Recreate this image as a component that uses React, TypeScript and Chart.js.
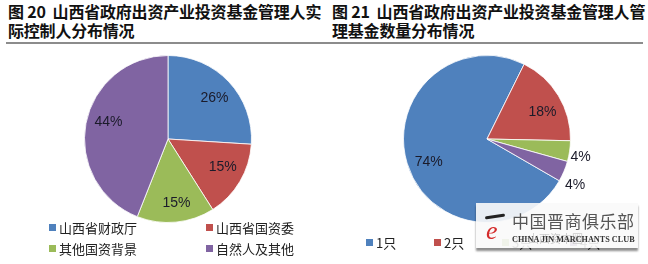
import React, { useEffect, useRef } from "react";
import { Chart, registerables } from "chart.js";

Chart.register(...registerables);

// ---- data ----
const leftCategories = ["山西省财政厅", "山西省国资委", "其他国资背景", "自然人及其他"];
const leftValues = [26, 15, 15, 44];
const rightCategories = ["1只", "2只", "3只", "4只"];
const rightValues = [74, 18, 4, 4];
const leftTitle = ["图 20  山西省政府出资产业投资基金管理人实", "际控制人分布情况"];
const rightTitle = ["图 21  山西省政府出资产业投资基金管理人管", "理基金数量分布情况"];

// ---- style ----
const COLORS = ["#4F81BD", "#C0504D", "#9BBB59", "#8064A2"];
const CJK = '"Noto Sans CJK SC", "Noto Sans", sans-serif';

type LabelStyle = { factor: number[]; nudge: number[] };

const labelPlugin = {
  id: "pctLabels",
  afterDatasetsDraw(chart: any) {
    const st: LabelStyle = chart.options.plugins.pctLabels;
    const ctx = chart.ctx;
    const meta = chart.getDatasetMeta(0);
    const data = chart.data.datasets[0].data as number[];
    ctx.save();
    ctx.font = '14px "Liberation Sans", Arial, sans-serif';
    ctx.fillStyle = "#1b1b2a";
    ctx.textAlign = "center";
    ctx.textBaseline = "middle";
    meta.data.forEach((arc: any, i: number) => {
      const p = arc.getProps(["x", "y", "startAngle", "endAngle", "outerRadius"], true);
      const mid = (p.startAngle + p.endAngle) / 2 + (st.nudge[i] * Math.PI) / 180;
      const r = p.outerRadius * st.factor[i];
      ctx.fillText(data[i] + "%", p.x + Math.cos(mid) * r, p.y + Math.sin(mid) * r);
    });
    ctx.restore();
  },
};

function Pie(props: {
  values: number[];
  labels: string[];
  rotation: number;
  style: LabelStyle;
  left: number;
}) {
  const ref = useRef<HTMLCanvasElement | null>(null);
  useEffect(() => {
    if (!ref.current) return;
    const chart = new Chart(ref.current, {
      type: "pie",
      data: {
        labels: props.labels,
        datasets: [
          {
            data: props.values,
            backgroundColor: COLORS,
            borderColor: "rgba(255,255,255,0.8)",
            borderWidth: 1,
          },
        ],
      },
      options: {
        animation: false,
        responsive: false,
        rotation: props.rotation,
        layout: { padding: 10 },
        plugins: {
          legend: { display: false },
          tooltip: { enabled: false },
          pctLabels: props.style,
        } as any,
      },
      plugins: [labelPlugin],
    });
    return () => chart.destroy();
  }, []);
  return (
    <canvas
      ref={ref}
      width={336}
      height={188}
      style={{ position: "absolute", left: props.left, top: 45, width: 336, height: 188 }}
    />
  );
}

function Title(props: { lines: string[]; left: number }) {
  return (
    <div
      style={{
        position: "absolute",
        left: props.left,
        top: 2,
        fontFamily: CJK,
        fontWeight: 700,
        fontSize: 16,
        lineHeight: "19px",
        color: "#111",
        whiteSpace: "pre",
        letterSpacing: -0.2,
      }}
    >
      {props.lines[0]}
      {"\n"}
      {props.lines[1]}
    </div>
  );
}

function LegendItem(props: { color: string; text: string; x: number; y: number }) {
  return (
    <div
      style={{
        position: "absolute",
        left: props.x,
        top: props.y - 10,
        height: 20,
        display: "flex",
        alignItems: "center",
        fontFamily: CJK,
        fontSize: 13,
        color: "#222",
        whiteSpace: "nowrap",
      }}
    >
      <span style={{ display: "inline-block", width: 7, height: 7, background: props.color, marginRight: 3 }} />
      {props.text}
    </div>
  );
}

export default function App() {
  useEffect(() => {
    document.body.style.margin = "0";
  }, []);
  const leftLegendPos = [
    [49, 227],
    [206, 227],
    [49, 248],
    [206, 248],
  ];
  const rightLegendPos = [
    [366, 242],
    [434, 242],
    [502, 242],
    [570, 242],
  ];
  return (
    <div style={{ position: "fixed", left: 0, top: 0, width: 648, height: 264, background: "#fff", overflow: "hidden" }}>
      <Title lines={leftTitle} left={8} />
      <Title lines={rightTitle} left={332} />
      <div style={{ position: "absolute", left: 6, top: 42, width: 637, height: 2, background: "#8c8c8c" }} />
      <Pie
        values={leftValues}
        labels={leftCategories}
        rotation={0}
        left={0}
        style={{ factor: [0.74, 0.74, 0.78, 0.74], nudge: [2, -3, -2, 5] }}
      />
      <Pie
        values={rightValues}
        labels={rightCategories}
        rotation={120}
        left={319}
        style={{ factor: [0.75, 0.74, 1.14, 1.19], nudge: [-4.5, 5, 2.4, 4.8] }}
      />
      {leftCategories.map((c, i) => (
        <LegendItem key={c} color={COLORS[i]} text={c} x={leftLegendPos[i][0]} y={leftLegendPos[i][1]} />
      ))}
      {rightCategories.map((c, i) => (
        <LegendItem key={c} color={COLORS[i]} text={c} x={rightLegendPos[i][0]} y={rightLegendPos[i][1]} />
      ))}
      {/* watermark */}
      <div
        style={{
          position: "absolute",
          left: 476,
          top: 203,
          width: 162,
          height: 45,
          background: "rgba(250,250,250,0.9)",
          boxShadow: "0 3px 2px rgba(0,0,0,0.45)",
        }}
      >
        <div
          style={{
            position: "absolute",
            left: 9,
            top: 12,
            width: 20,
            height: 3,
            background: "#222",
            borderRadius: 2,
            transform: "rotate(-8deg)",
          }}
        />
        <div
          style={{
            position: "absolute",
            left: 10,
            top: 14,
            fontFamily: '"Liberation Serif", serif',
            fontStyle: "italic",
            fontSize: 26,
            color: "#d42b2b",
            lineHeight: "28px",
          }}
        >
          e
        </div>
        <div
          style={{
            position: "absolute",
            left: 36,
            top: 8,
            fontFamily: CJK,
            fontSize: 17,
            lineHeight: "20px",
            color: "#555",
            letterSpacing: 0.5,
            whiteSpace: "nowrap",
          }}
        >
          中国晋商俱乐部
        </div>
        <div
          style={{
            position: "absolute",
            left: 52,
            top: 27,
            fontFamily: CJK,
            fontSize: 11,
            color: "#ccc",
            whiteSpace: "nowrap",
          }}
        >
          山西资本圈
        </div>
        <div
          style={{
            position: "absolute",
            left: 36,
            top: 32,
            fontFamily: '"Liberation Serif", serif',
            fontSize: 8.2,
            fontWeight: 700,
            color: "#333",
            whiteSpace: "nowrap",
          }}
        >
          CHINA JIN MARCHANTS CLUB
        </div>
      </div>
    </div>
  );
}
